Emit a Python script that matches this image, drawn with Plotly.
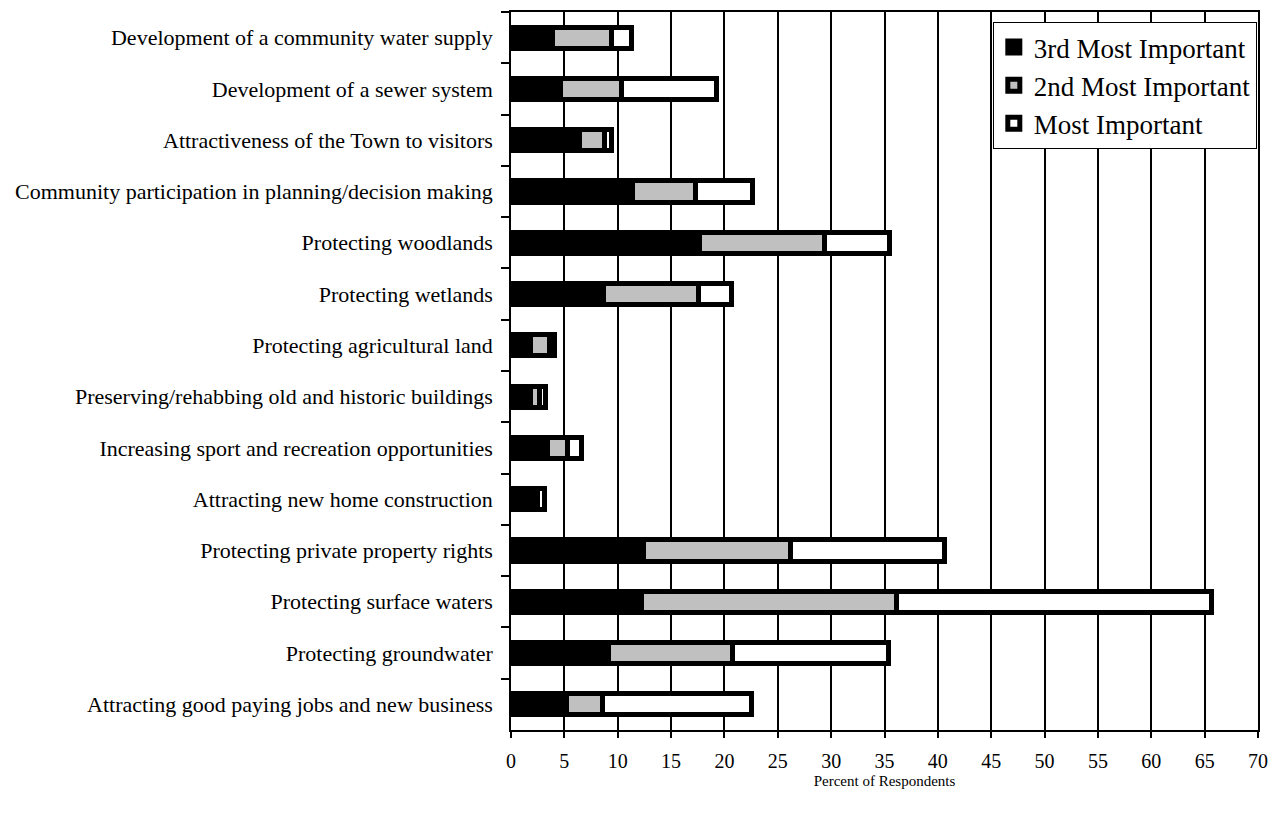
import plotly.graph_objects as go

# Issues, listed top to bottom
issues = [
    "Development of a community water supply",
    "Development of a sewer system",
    "Attractiveness of the Town to visitors",
    "Community participation in planning/decision making",
    "Protecting woodlands",
    "Protecting wetlands",
    "Protecting agricultural land",
    "Preserving/rehabbing old and historic buildings",
    "Increasing sport and recreation opportunities",
    "Attracting new home construction",
    "Protecting private property rights",
    "Protecting surface waters",
    "Protecting groundwater",
    "Attracting good paying jobs and new business",
]

# Percent of respondents ranking each issue
third_most = [3.9, 4.65, 6.4, 11.4, 17.7, 8.7, 1.8, 1.8, 3.4, 2.0, 12.4, 12.2, 9.1, 5.2]
second_most = [5.5, 5.7, 2.35, 5.9, 11.7, 8.9, 1.8, 0.85, 1.85, 0.5, 13.8, 23.9, 11.7, 3.4]
most = [1.9, 8.9, 0.7, 5.3, 6.1, 3.05, 0.5, 0.55, 1.4, 0.6, 14.4, 29.5, 14.6, 13.9]

x_ticks = list(range(0, 75, 5))

FONT = "Liberation Serif, Times New Roman, serif"

series = [
    ("3rd Most Important", third_most, "#000000"),
    ("2nd Most Important", second_most, "#c0c0c0"),
    ("Most Important", most, "#ffffff"),
]

fig = go.Figure()
for name, vals, color in series:
    fig.add_trace(go.Bar(
        y=issues, x=vals, name=name, orientation="h",
        marker=dict(color=color, line=dict(color="#000000", width=5)),
        hoverinfo="x+y+name",
    ))

fig.update_layout(
    width=1278, height=815,
    barmode="stack", bargap=0.59,
    paper_bgcolor="white", plot_bgcolor="white",
    margin=dict(l=511, r=12, t=10, b=85),
    font=dict(family=FONT, color="black"),
    legend=dict(
        x=0.645, y=0.986, xanchor="left", yanchor="top",
        traceorder="normal",
        bgcolor="white", bordercolor="black", borderwidth=1,
        font=dict(family=FONT, size=27, color="black"),
    ),
)

fig.update_xaxes(
    range=[0, 70], tickvals=x_ticks, ticktext=[str(v) for v in x_ticks],
    showgrid=True, gridcolor="black", gridwidth=1.5,
    showline=True, linecolor="black", linewidth=1.5, mirror=True,
    ticks="outside", ticklen=6, tickcolor="black", tickwidth=1.5,
    ticklabelstandoff=6,
    zeroline=False,
    tickfont=dict(family=FONT, size=20, color="black"),
    title=dict(text="Percent of Respondents",
               font=dict(family=FONT, size=15, color="black"), standoff=5),
)

fig.update_yaxes(
    categoryorder="array", categoryarray=issues, autorange="reversed",
    showgrid=False,
    showline=True, linecolor="black", linewidth=1.5, mirror=True,
    ticks="outside", ticklen=8, tickcolor="black", tickwidth=1.5,
    tickson="boundaries", ticklabelstandoff=12,
    tickfont=dict(family=FONT, size=22, color="black"),
)

fig.write_html("out.html")
